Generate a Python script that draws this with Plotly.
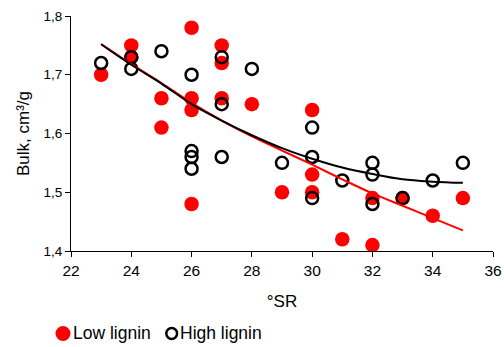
import plotly.graph_objects as go

# Low lignin (red filled)
low_x = [23, 24, 24, 25, 25, 26, 26, 26, 26, 27, 27, 27, 28, 29, 30, 30, 30, 31, 32, 32, 33, 34, 35]
low_y = [1.70, 1.75, 1.73, 1.66, 1.61, 1.78, 1.66, 1.64, 1.48, 1.75, 1.72, 1.66, 1.65, 1.50, 1.64, 1.53, 1.50, 1.42, 1.49, 1.41, 1.49, 1.46, 1.49]

# High lignin (black open)
high_x = [23, 24, 24, 25, 26, 26, 26, 26, 27, 27, 27, 28, 29, 30, 30, 30, 31, 32, 32, 32, 33, 34, 35]
high_y = [1.72, 1.73, 1.71, 1.74, 1.70, 1.57, 1.56, 1.54, 1.73, 1.65, 1.56, 1.71, 1.55, 1.61, 1.56, 1.49, 1.52, 1.55, 1.53, 1.48, 1.49, 1.52, 1.55]

# Trendlines
trend_x = [23, 24, 25, 26, 27, 28, 29, 30, 31, 32, 33, 34, 35]
low_trend = [1.752, 1.718, 1.686, 1.652, 1.622, 1.595, 1.571, 1.547, 1.522, 1.498, 1.477, 1.456, 1.435]
high_trend = [1.752, 1.717, 1.685, 1.650, 1.622, 1.597, 1.575, 1.557, 1.542, 1.531, 1.522, 1.518, 1.516]

x_ticks = [22, 24, 26, 28, 30, 32, 34, 36]
y_ticks = [1.4, 1.5, 1.6, 1.7, 1.8]

FONT = "Liberation Sans, Arial, sans-serif"
W, H = 504, 347
L, R, T, B = 71, 11, 16, 96
PW, PH = W - L - R, H - T - B


def px(xp):
    return (xp - L) / PW


def py(yp):
    return (H - B - yp) / PH


fig = go.Figure()
fig.add_trace(go.Scatter(x=low_x, y=low_y, mode="markers", name="Low lignin",
                         marker=dict(symbol="circle", size=14.5, color="#FF0000", line=dict(width=0))))
fig.add_trace(go.Scatter(x=high_x, y=high_y, mode="markers", name="High lignin",
                         marker=dict(symbol="circle-open", size=12, color="#000000", line=dict(width=2.5))))
fig.add_trace(go.Scatter(x=trend_x, y=low_trend, mode="lines", showlegend=False, hoverinfo="skip",
                         line=dict(color="#FF0000", width=2, shape="spline")))
fig.add_trace(go.Scatter(x=trend_x, y=high_trend, mode="lines", showlegend=False, hoverinfo="skip",
                         line=dict(color="#000000", width=2, shape="spline")))

# legend drawn below the plot (symbol close to text as in the original)
legend_y = 333.5
shapes = [
    dict(type="circle", xref="paper", yref="paper", layer="above",
         x0=px(63 - 7.5), x1=px(63 + 7.5), y0=py(legend_y + 7.5), y1=py(legend_y - 7.5),
         fillcolor="#FF0000", line=dict(width=0)),
    dict(type="circle", xref="paper", yref="paper", layer="above",
         x0=px(171.7 - 5.4), x1=px(171.7 + 5.4), y0=py(legend_y + 5.4), y1=py(legend_y - 5.4),
         fillcolor="rgba(0,0,0,0)", line=dict(color="#000000", width=2.5)),
]
annotations = [
    dict(text="Low lignin", xref="paper", yref="paper", x=px(72), y=py(legend_y - 0.5),
         xanchor="left", yanchor="middle", showarrow=False, borderpad=0,
         font=dict(size=17.5, family=FONT, color="#000000")),
    dict(text="High lignin", xref="paper", yref="paper", x=px(179), y=py(legend_y - 0.5),
         xanchor="left", yanchor="middle", showarrow=False, borderpad=0,
         font=dict(size=17.5, family=FONT, color="#000000")),
]

fig.update_layout(
    width=W, height=H,
    margin=dict(l=L, r=R, t=T, b=B),
    paper_bgcolor="white", plot_bgcolor="white",
    font=dict(family=FONT, size=14, color="#000000"),
    separators=", ",
    showlegend=False,
    shapes=shapes,
    annotations=annotations,
)
fig.update_xaxes(range=[22, 36], tickvals=x_ticks, showgrid=False, zeroline=False, automargin=False,
                 showline=True, linecolor="#000000", linewidth=1,
                 ticks="outside", ticklen=5, tickcolor="#000000",
                 tickfont=dict(size=15.5),
                 title=dict(text="°SR", font=dict(size=17), standoff=17))
fig.update_yaxes(range=[1.4, 1.8], tickvals=y_ticks, tickformat=".1f", showgrid=False, zeroline=False,
                 automargin=False,
                 showline=True, linecolor="#000000", linewidth=1,
                 ticks="outside", ticklen=5, tickcolor="#000000",
                 tickfont=dict(size=13.5),
                 title=dict(text="Bulk, cm³/g", font=dict(size=17), standoff=9))

fig.write_html("out.html", config={"displayModeBar": False},
               post_script="document.body.style.margin='0px';document.body.style.overflow='hidden';")
